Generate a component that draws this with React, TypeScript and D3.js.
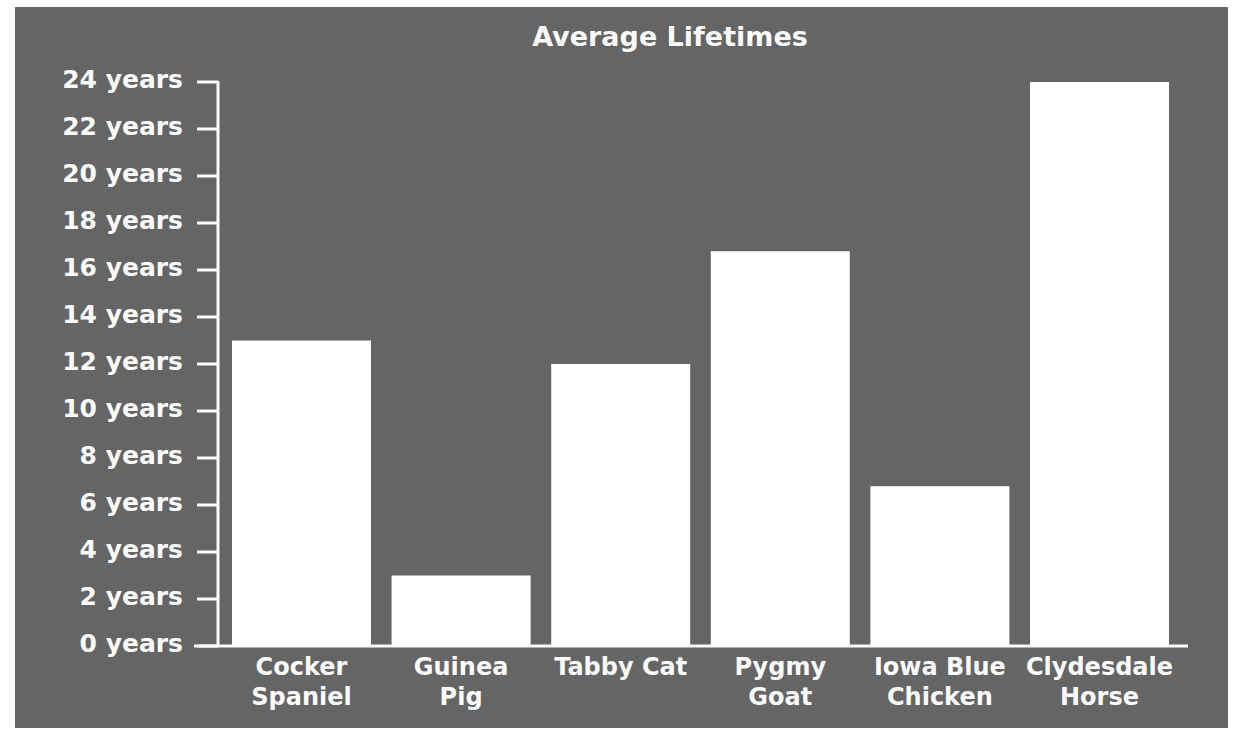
import React from "react";
import * as d3 from "d3";

const categories: string[][] = [
  ["Cocker", "Spaniel"],
  ["Guinea", "Pig"],
  ["Tabby Cat"],
  ["Pygmy", "Goat"],
  ["Iowa Blue", "Chicken"],
  ["Clydesdale", "Horse"],
];
const lifetimes: number[] = [13, 3, 12, 16.8, 6.8, 24];
const yTicks: number[] = [0, 2, 4, 6, 8, 10, 12, 14, 16, 18, 20, 22, 24];
const title = "Average Lifetimes";

const W = 1233;
const H = 731;
const FONT = "'DejaVu Sans', Verdana, sans-serif";

export default function App() {
  const keys = categories.map((c) => c.join(" "));
  const x = d3
    .scaleBand<string>()
    .domain(keys)
    .range([232, 1169])
    .paddingInner(0.129)
    .paddingOuter(0);
  const y = d3.scaleLinear().domain([0, 24]).range([646, 82]);
  const ink = "#fbfbfb";

  return (
    <svg
      width={W}
      height={H}
      style={{ position: "absolute", left: 0, top: 0, background: "#fff" }}
    >
      <rect x={15} y={7} width={1213} height={721} fill="#656565" />
      <text
        x={670}
        y={46}
        textAnchor="middle"
        fill={ink}
        fontFamily={FONT}
        fontWeight={700}
        fontSize={27}
      >
        {title}
      </text>
      {lifetimes.map((v, i) => (
        <rect
          key={keys[i]}
          x={x(keys[i])!}
          y={y(v)}
          width={x.bandwidth()}
          height={y(0) - y(v)}
          fill="#fefefe"
        />
      ))}
      {/* y axis */}
      <line x1={218} x2={218} y1={y(24) - 1} y2={y(0)} stroke={ink} strokeWidth={3} />
      {yTicks.map((t) => (
        <g key={t}>
          <line x1={197} x2={218} y1={y(t)} y2={y(t)} stroke={ink} strokeWidth={3} />
          <text
            x={183}
            y={y(t) + 6}
            textAnchor="end"
            fill={ink}
            fontFamily={FONT}
            fontWeight={700}
            fontSize={25}
          >
            {`${t} years`}
          </text>
        </g>
      ))}
      {/* x axis */}
      <line x1={194} x2={1188} y1={y(0)} y2={y(0)} stroke={ink} strokeWidth={3} />
      {categories.map((lines, i) => (
        <text
          key={keys[i]}
          x={x(keys[i])! + x.bandwidth() / 2}
          y={675}
          textAnchor="middle"
          fill={ink}
          fontFamily={FONT}
          fontWeight={700}
          fontSize={24}
        >
          {lines.map((l, j) => (
            <tspan key={j} x={x(keys[i])! + x.bandwidth() / 2} dy={j === 0 ? 0 : 30}>
              {l}
            </tspan>
          ))}
        </text>
      ))}
    </svg>
  );
}
